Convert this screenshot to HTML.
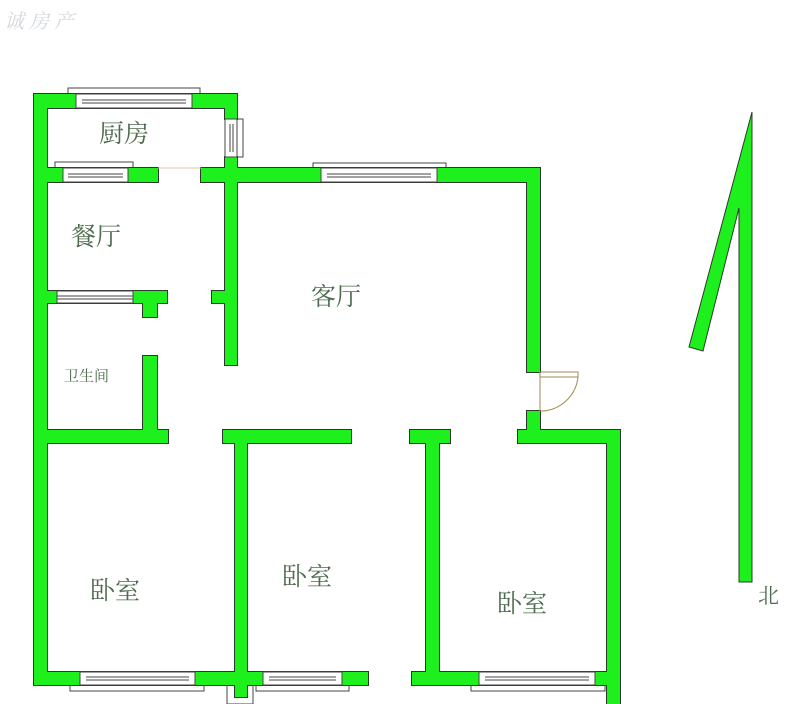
<!DOCTYPE html>
<html><head><meta charset="utf-8">
<style>
html,body{margin:0;padding:0;background:#fff;}
svg{display:block;}
text{font-family:"Liberation Serif","Noto Serif CJK SC","Noto Sans CJK SC",serif;fill:#4d6b4d;}
</style></head>
<body>
<svg width="800" height="704" viewBox="0 0 800 704" xmlns="http://www.w3.org/2000/svg">
<rect width="800" height="704" fill="#fff"/>
<text x="4" y="28" font-size="20" style="fill:#d4d8dc" font-style="italic">诚 房 产</text>

<defs>
<g id="walls">
<rect x="34" y="94" width="13" height="591"/>
<rect x="34" y="94" width="203" height="14"/>
<rect x="225" y="94" width="12" height="25"/>
<rect x="225" y="157" width="12" height="208"/>
<rect x="34" y="168" width="124" height="14"/>
<rect x="201" y="168" width="339" height="14"/>
<rect x="527" y="168" width="13" height="204"/>
<rect x="527" y="411" width="13" height="25"/>
<rect x="34" y="291" width="133" height="12"/>
<rect x="143" y="291" width="14" height="26"/>
<rect x="212" y="291" width="25" height="12"/>
<rect x="143" y="356" width="14" height="86"/>
<rect x="34" y="430" width="134" height="13"/>
<rect x="223" y="430" width="128" height="13"/>
<rect x="235" y="430" width="12" height="267"/>
<rect x="410" y="430" width="40" height="13"/>
<rect x="426" y="430" width="13" height="255"/>
<rect x="518" y="430" width="102" height="13"/>
<rect x="607" y="430" width="13" height="274"/>
<rect x="34" y="672" width="334" height="13"/>
<rect x="412" y="672" width="195" height="13"/>
<rect x="235" y="672" width="12" height="25"/>
</g>
</defs>

<!-- window outer frames -->
<g fill="#fff" stroke="#444" stroke-width="1">
<rect x="68" y="88" width="132" height="20"/>
<rect x="225" y="119" width="18" height="38"/>
<rect x="55" y="162" width="78" height="20"/>
<rect x="313" y="163" width="133" height="19"/>
<rect x="70" y="672" width="134" height="19"/>
<rect x="256" y="672" width="93" height="19"/>
<rect x="471" y="672" width="134" height="19"/>
<rect x="227" y="685" width="26" height="19"/>
</g>

<!-- walls: outline then fill -->
<use href="#walls" fill="#2a3a2a" stroke="#2a3a2a" stroke-width="2"/>
<use href="#walls" fill="#1ef01e"/>

<!-- window glass -->
<g fill="#fff" stroke="#444" stroke-width="1">
<rect x="76" y="94" width="116" height="14"/>
<line x1="82" y1="100" x2="186" y2="100"/><line x1="82" y1="103" x2="186" y2="103"/>
<rect x="225" y="119" width="12" height="38"/>
<line x1="230" y1="124" x2="230" y2="152"/><line x1="233" y1="124" x2="233" y2="152"/>
<rect x="63" y="168" width="65" height="14"/>
<line x1="68" y1="174" x2="123" y2="174"/><line x1="68" y1="177" x2="123" y2="177"/>
<rect x="321" y="168" width="116" height="14"/>
<line x1="327" y1="174" x2="431" y2="174"/><line x1="327" y1="177" x2="431" y2="177"/>
<rect x="57" y="291" width="76" height="12"/>
<line x1="57" y1="296" x2="133" y2="296"/><line x1="57" y1="299" x2="133" y2="299"/>
<rect x="80" y="672" width="115" height="13"/>
<line x1="86" y1="677" x2="189" y2="677"/><line x1="86" y1="680" x2="189" y2="680"/>
<rect x="263" y="672" width="79" height="13"/>
<line x1="269" y1="677" x2="336" y2="677"/><line x1="269" y1="680" x2="336" y2="680"/>
<rect x="479" y="672" width="116" height="13"/>
<line x1="485" y1="677" x2="589" y2="677"/><line x1="485" y1="680" x2="589" y2="680"/>
</g>
<line x1="158" y1="168" x2="201" y2="168" stroke="#d8c8a0" stroke-width="1"/>

<!-- door -->
<g fill="none" stroke="#a08a50" stroke-width="1">
<line x1="540" y1="372" x2="540" y2="411"/>
<rect x="540" y="372" width="38" height="5"/>
<path d="M578 377 A38 38 0 0 1 540 411"/>
</g>

<!-- compass -->
<polygon points="752,112 752,582 739,582 739,208 703,351 689,347" fill="#1ef01e" stroke="#2a3a2a" stroke-width="1"/>
<text x="758" y="603" font-size="21">北</text>

<!-- labels -->
<text x="99" y="142" font-size="25">厨房</text>
<text x="71" y="245" font-size="25">餐厅</text>
<text x="311" y="305" font-size="25">客厅</text>
<text x="64" y="381" font-size="15">卫生间</text>
<text x="90" y="599" font-size="25">卧室</text>
<text x="282" y="585" font-size="25">卧室</text>
<text x="497" y="612" font-size="25">卧室</text>
</svg>
</body></html>
